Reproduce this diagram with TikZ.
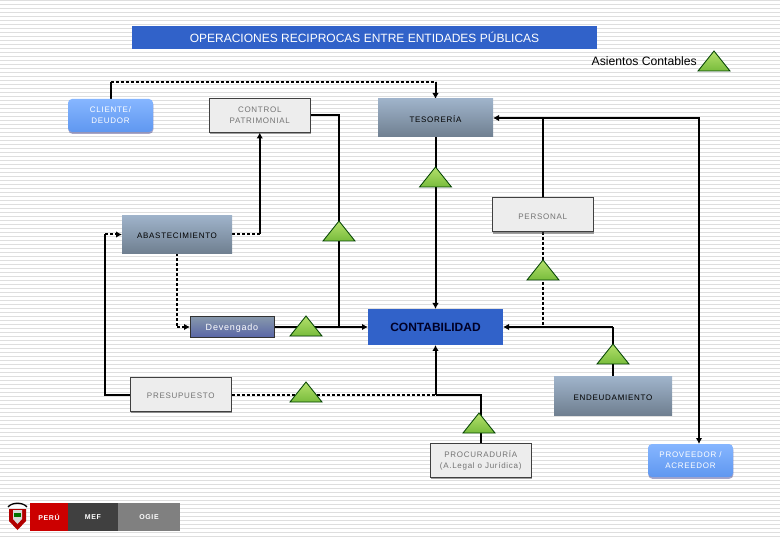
\documentclass[tikz,border=0pt]{standalone}
\usepackage{fontspec}
\setmainfont{Liberation Sans}
\newfontfamily\spacedfont[LetterSpace=9]{Liberation Sans}
\usetikzlibrary{positioning, shapes.geometric, arrows.meta, backgrounds, shadows}
\definecolor{titleblue}{HTML}{3162C9}
\definecolor{steeltop}{HTML}{9FB3CA}
\definecolor{steelbottom}{HTML}{6F7F90}
\definecolor{skytop}{HTML}{86B6FF}
\definecolor{skybottom}{HTML}{5F97F0}
\definecolor{leaftop}{HTML}{B4E06C}
\definecolor{leafbottom}{HTML}{78BC3C}

\begin{document}
\begin{tikzpicture}[
        x=1pt, y=-1pt,
        title_node/.style={rectangle, minimum width=465pt, minimum height=23pt, inner sep=0pt, outer sep=0pt, fill=titleblue, text=white, font=\fontsize{12}{14}\selectfont},
        low_text/.style={execute at begin node={\rule{0pt}{8.5pt}}},
        steel_node/.style={rectangle, minimum width=#1, minimum height=38pt, inner sep=0pt, outer sep=0pt, align=center, top color=steeltop, bottom color=steelbottom, text=black, low_text, font=\spacedfont\fontsize{8}{11}\selectfont},
        sky_node/.style={rectangle, rounded corners=4pt, minimum width=85pt, minimum height=33pt, inner sep=0pt, outer sep=0pt, align=center, top color=skytop, bottom color=skybottom, drop shadow={shadow xshift=0.3pt, shadow yshift=-1.8pt, fill=black!60!blue!70}, text=white, low_text, font=\spacedfont\fontsize{8}{11}\selectfont},
        white_node/.style={rectangle, minimum width=101.5pt, minimum height=34pt, inner sep=0pt, outer sep=0pt, align=center, fill=black!7, draw=black!75, line width=1pt, drop shadow={shadow xshift=0.5pt, shadow yshift=-1.8pt, fill=black!75}, text=black!55, low_text, font=\spacedfont\fontsize{8}{11}\selectfont},
        triangle_node/.style={isosceles triangle, isosceles triangle stretches, shape border rotate=90, minimum width=32pt, minimum height=20pt, inner sep=0pt, outer sep=0pt, anchor=apex, top color=leaftop, bottom color=leafbottom, draw=black!75!green, line width=0.8pt},
        logo_node/.style={rectangle, minimum height=28pt, inner sep=0pt, outer sep=0pt, text=white, font=\spacedfont\fontsize{7}{9}\selectfont\bfseries},
        plain_line/.style={line width=2pt, draw=black},
        dash_line/.style={line width=2pt, draw=black, dash pattern=on 3pt off 2pt},
        arrow/.style={-{Latex[length=6pt, width=6.5pt]}, line width=2pt, draw=black},
        bi_arrow/.style={{Latex[length=6pt, width=6.5pt]}-{Latex[length=6pt, width=6.5pt]}, line width=2pt, draw=black}
    ]
        \useasboundingbox (0,0) rectangle (780,540);

        % Nodes
        \node (title) [title_node] at (364.5,37.5) {OPERACIONES RECIPROCAS ENTRE ENTIDADES PÚBLICAS};
        \node (cliente) [sky_node] at (110.5,115.5) {CLIENTE/\\DEUDOR};
        \node (control) [white_node, right=56pt of cliente] {CONTROL\\PATRIMONIAL};
        \node (tesoreria) [steel_node=115pt, right=67.5pt of control, yshift=-2.5pt] {TESORERÍA};
        \node (contabilidad) [rectangle, minimum width=135pt, minimum height=36pt, inner sep=0pt, outer sep=0pt, fill=titleblue, text=black!85!blue, font=\fontsize{12}{14}\selectfont\bfseries, below=172pt of tesoreria] {CONTABILIDAD};
        \node (personal) [white_node, above right=77pt and -11pt of contabilidad.north east] {PERSONAL};
        \node (endeudamiento) [steel_node=118pt, below right=32pt and 51pt of contabilidad.south east] {ENDEUDAMIENTO};
        \node (procuraduria) [white_node, below right=98pt and 62pt of contabilidad.south west] {PROCURADURÍA\\(A.Legal o Jurídica)};
        \node (proveedor) [sky_node, below right=29pt and -24pt of endeudamiento.south east] {PROVEEDOR /\\ACREEDOR};
        \node (devengado) [rectangle, minimum width=84pt, minimum height=21pt, inner sep=0pt, outer sep=0pt, top color=steeltop!85!black, bottom color=steelbottom!80!blue, draw=black!80, line width=0.8pt, text=white, low_text, font=\spacedfont\fontsize{9}{11}\selectfont, left=94pt of contabilidad] {Devengado};
        \node (abastecimiento) [steel_node=110pt, above left=63pt and 42pt of devengado.north east] {ABASTECIMIENTO};
        \node (presupuesto) [white_node, below right=124pt and 8pt of abastecimiento.south west] {PRESUPUESTO};

        % Triangles
        \node (tri_legend) [triangle_node] at (714,51) {};
        \node (legend) [anchor=east, inner sep=0pt, font=\fontsize{12.2}{14}\selectfont] at (697,61) {Asientos Contables};
        \node (tri_tesoreria) [triangle_node] at (435.5,167) {};
        \node (tri_control) [triangle_node] at (339,221) {};
        \node (tri_personal) [triangle_node] at (543,260) {};
        \node (tri_devengado) [triangle_node] at (306,316) {};
        \node (tri_presupuesto) [triangle_node] at (306,382) {};
        \node (tri_endeudamiento) [triangle_node] at (613,344) {};
        \node (tri_procuraduria) [triangle_node] at (479,413) {};

        % Logo
        \node (peru) [logo_node, minimum width=38pt, fill=red!80!black] at (49,517) {PERÚ};
        \node (mef) [logo_node, minimum width=50pt, fill=black!75, right=0pt of peru] {MEF};
        \node (ogie) [logo_node, minimum width=62pt, fill=black!50, right=0pt of mef] {OGIE};
        \draw [line width=1.3pt] (8,507) .. controls (12,502) and (23,502) .. (27,507);
        \fill [red!70!black] (9,509) -- (26,509) -- (26,521) -- (17.5,530) -- (9,521) -- cycle;
        \fill [black!15] (13,510) -- (22,510) -- (22,519) -- (17.5,524) -- (13,519) -- cycle;
        \fill [black!55!green] (14,513) rectangle (21,517);

        % Bends
        \coordinate (cliente_up) at (cliente.north |- 0,82);
        \coordinate (tesoreria_up) at (tesoreria.north |- 0,82);
        \coordinate (control_turn) at (tri_control.north |- control.east);
        \coordinate (control_end) at (tri_control.north |- devengado.east);
        \coordinate (abast_turn) at (control.south |- abastecimiento.east);
        \coordinate (abast_down) at (abastecimiento.south |- devengado.west);
        \coordinate (presup_turn) at (105,0 |- presupuesto.west);
        \coordinate (presup_up) at (105,0 |- abastecimiento.west);
        \coordinate (conta_low) at (contabilidad.south |- presupuesto.east);
        \coordinate (procur_turn) at (procuraduria.north -| 481,0);
        \coordinate (procur_up) at (481,0 |- presupuesto.east);
        \coordinate (endeu_turn) at (tri_endeudamiento.north |- contabilidad.east);
        \coordinate (personal_end) at (personal.south |- contabilidad.east);
        \coordinate (personal_up) at (personal.north |- tesoreria.east);
        \coordinate (proveedor_turn) at (699,0 |- tesoreria.east);
        \coordinate (proveedor_in) at (699,0 |- proveedor.north);

        % Arrows
        \begin{scope}[on background layer]
            \foreach \stripe in {0,4,...,536}
                \draw [black!13, line width=1.5pt] (0,\stripe+0.5) -- (780,\stripe+0.5);
            \draw [plain_line] (cliente.north) -- (cliente_up);
            \draw [dash_line] (cliente_up) -- (tesoreria_up);
            \draw [arrow] (tesoreria_up) -- (tesoreria.north);
            \draw [plain_line] (control.east) -- (control_turn) -- (control_end);
            \draw [dash_line] (abastecimiento.east) -- (abast_turn);
            \draw [arrow] (abast_turn) -- (control.south);
            \draw [dash_line] (abastecimiento.south) -- (abast_down);
            \draw [arrow, dash pattern=on 3pt off 2pt] (abast_down) -- (devengado.west);
            \draw [arrow] (devengado) -- (contabilidad);
            \draw [plain_line] (presupuesto.west) -- (presup_turn) -- (presup_up);
            \draw [arrow, dash pattern=on 3pt off 2pt] (presup_up) -- (abastecimiento.west);
            \draw [dash_line] (presupuesto.east) -- (conta_low);
            \draw [arrow] (conta_low) -- (contabilidad.south);
            \draw [plain_line] (procur_turn) -- (procur_up) -- (conta_low);
            \draw [arrow] (tesoreria) -- (contabilidad);
            \draw [plain_line] (tri_endeudamiento.north |- endeudamiento.north) -- (endeu_turn);
            \draw [arrow] (endeu_turn) -- (contabilidad.east);
            \draw [dash_line] (personal.south) -- (personal_end);
            \draw [plain_line] (personal.north) -- (personal_up);
            \draw [bi_arrow] (tesoreria.east) -- (proveedor_turn) -- (proveedor_in);
        \end{scope}
    \end{tikzpicture}
\end{document}
